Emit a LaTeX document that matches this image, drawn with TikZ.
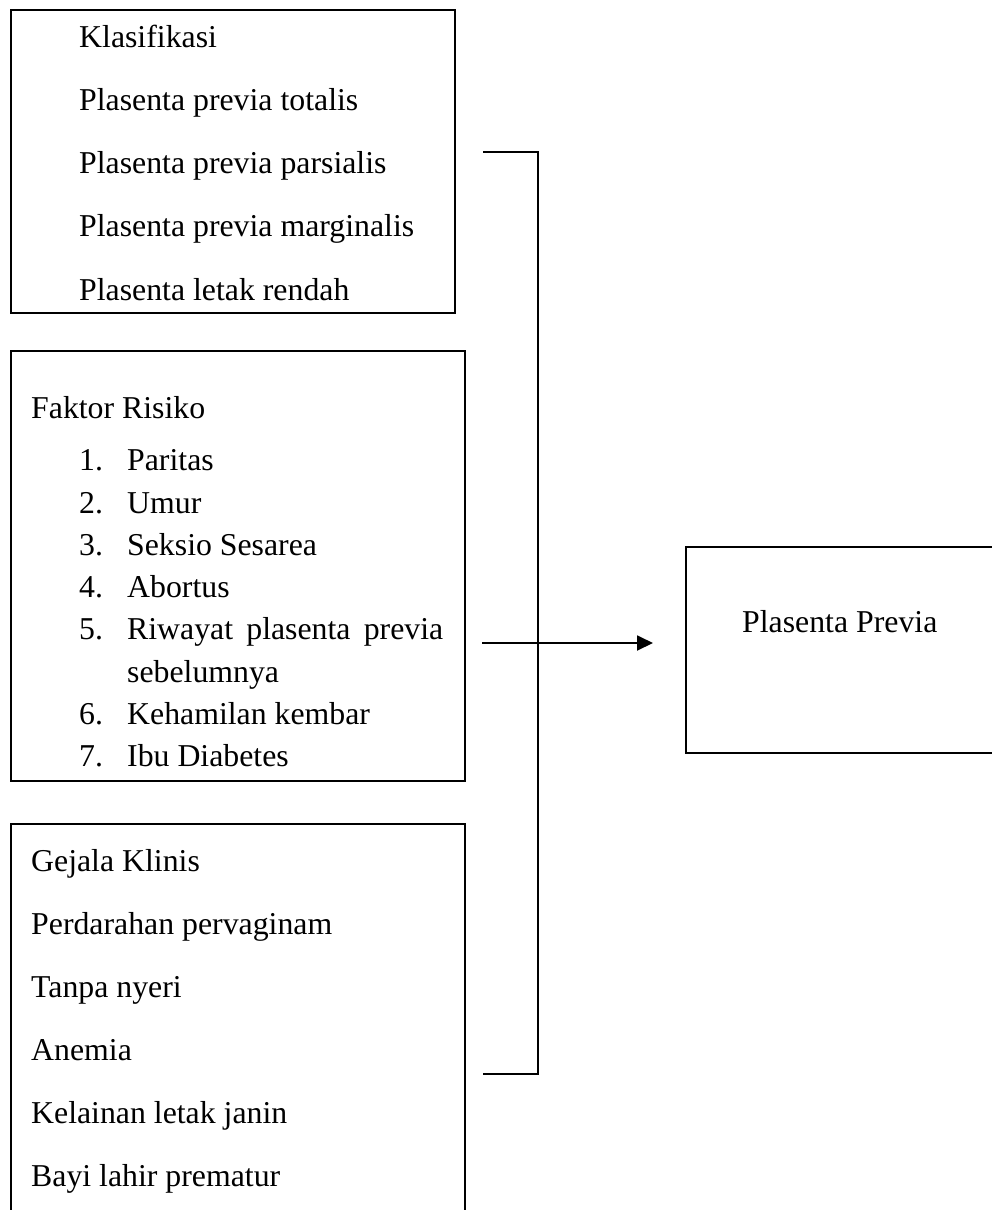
\documentclass[tikz,border=0pt]{standalone}
\usepackage{fontspec}
\setmainfont{Liberation Serif}
\usetikzlibrary{arrows.meta}

\begin{document}
\begin{tikzpicture}[x=1pt, y=-1pt,
    panel/.style={rectangle, draw=black, line width=1.9pt, anchor=north west, inner sep=0pt},
    txt/.style={anchor=base west, inner sep=0pt, font=\fontsize{31.8}{38}\selectfont},
    line/.style={draw=black, line width=1.9pt},
    arrowline/.style={draw=black, line width=1.9pt, -{Triangle[length=16pt, width=15pt]}}
]
    \useasboundingbox (0,0) rectangle (992,1210);

    % Boxes
    \node (klas) [panel, minimum width=444pt, minimum height=303pt] at (10,9) {};
    \node (faktor) [panel, minimum width=454pt, minimum height=430pt] at (10,350) {};
    \node (gejala) [panel, minimum width=454pt, minimum height=420pt] at (10,823) {};
    \node (previa) [panel, minimum width=340pt, minimum height=206pt] at (685,546) {};

    % Klasifikasi
    \node (k0) [txt] at (79,47.7) {Klasifikasi};
    \node (k1) [txt] at (79,110.5) {Plasenta previa totalis};
    \node (k2) [txt] at (79,173.5) {Plasenta previa parsialis};
    \node (k3) [txt] at (79,236.8) {Plasenta previa marginalis};
    \node (k4) [txt] at (79,300) {Plasenta letak rendah};

    % Faktor risiko
    \node (f0) [txt] at (31,418) {Faktor Risiko};
    \node (f1) [txt] at (79,470.7) {\makebox[48pt][l]{1.}Paritas};
    \node (f2) [txt] at (79,513.0) {\makebox[48pt][l]{2.}Umur};
    \node (f3) [txt] at (79,555.3) {\makebox[48pt][l]{3.}Seksio Sesarea};
    \node (f4) [txt] at (79,597.6) {\makebox[48pt][l]{4.}Abortus};
    \node (f5) [txt] at (79,639.9) {\makebox[48pt][l]{5.}\makebox[316pt][s]{Riwayat plasenta previa}};
    \node (f5b) [txt] at (127,682.2) {sebelumnya};
    \node (f6) [txt] at (79,724.4) {\makebox[48pt][l]{6.}Kehamilan kembar};
    \node (f7) [txt] at (79,766.7) {\makebox[48pt][l]{7.}Ibu Diabetes};

    % Gejala klinis
    \node (g0) [txt] at (31,871.5) {Gejala Klinis};
    \node (g1) [txt] at (31,934.5) {Perdarahan pervaginam};
    \node (g2) [txt] at (31,997.5) {Tanpa nyeri};
    \node (g3) [txt] at (31,1060.5) {Anemia};
    \node (g4) [txt] at (31,1123.5) {Kelainan letak janin};
    \node (g5) [txt] at (31,1186.5) {Bayi lahir prematur};

    % Hasil
    \node (p0) [txt] at (742,632) {Plasenta Previa};

    % Bracket and arrow
    \coordinate (brTop) at (483,152);
    \coordinate (brBot) at (483,1074);
    \coordinate (arrL) at (482,643);
    \coordinate (arrR) at (653,643);
    \draw [line] (brTop) -- ++(55,0) |- (brBot);
    \draw [arrowline] (arrL) -- (arrR);
\end{tikzpicture}
\end{document}
